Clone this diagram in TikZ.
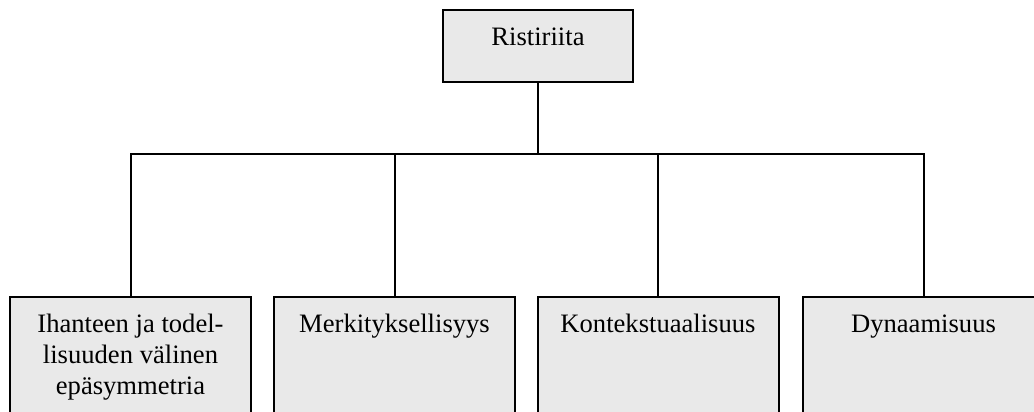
\documentclass[tikz,border=0pt]{standalone}
\usepackage{fontspec}
\setmainfont{Liberation Serif}
\usepackage{xcolor}
\usetikzlibrary{positioning}
\definecolor{BoxGray}{RGB}{233, 233, 233}

\begin{document}
\begin{tikzpicture}[x=0.5pt, y=-0.5pt,
    catbox/.style={draw=black, fill=BoxGray, line width=1pt, inner sep=0pt,
        minimum width=120.5pt, minimum height=70pt},
    topbox/.style={catbox, minimum width=95pt, minimum height=36pt},
    cattext/.style={font=\fontsize{13.3}{15.3}\selectfont, align=center, inner sep=0pt},
    link/.style={line width=1pt}]
    \useasboundingbox (0,0) rectangle (1034,412);
    \clip (0,0) rectangle (1034,412);
    % upper box and branching point
    \node[topbox] (ristiriita) at (538,46) {};
    \coordinate (haara) at (538,154);
    % lower boxes
    \node[catbox] (ihanne) at (130.5,367) {};
    \node[catbox] (merkitys) at (394.5,367) {};
    \node[catbox] (konteksti) at (658,367) {};
    \node[catbox] (dynamiikka) at (923.5,367) {};
    % connectors
    \draw[link] (ristiriita.south) -- (haara);
    \draw[link] (ihanne.north) |- (haara) -| (dynamiikka.north);
    \draw[link] (merkitys.north) -- (merkitys.north |- haara);
    \draw[link] (konteksti.north) -- (konteksti.north |- haara);
    % texts
    \node[cattext, below=9pt of ristiriita.north] (ristiriitateksti) {Ristiriita};
    \node[cattext, below=9pt of ihanne.north] (ihanneteksti)
        {Ihanteen ja todel-\\lisuuden välinen\\epäsymmetria};
    \node[cattext, below=9pt of merkitys.north] (merkitysteksti) {Merkityksellisyys};
    \node[cattext, below=9pt of konteksti.north] (kontekstiteksti) {Kontekstuaalisuus};
    \node[cattext, below=9pt of dynamiikka.north] (dynamiikkateksti) {Dynaamisuus};
\end{tikzpicture}
\end{document}
